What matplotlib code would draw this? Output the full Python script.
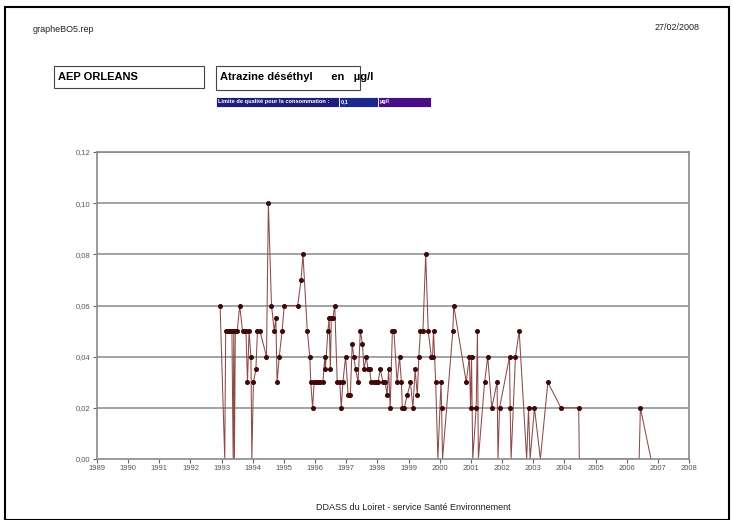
import numpy as np
import matplotlib
matplotlib.use("Agg")
import matplotlib.pyplot as plt
from matplotlib.patches import Rectangle

plt.rcParams['font.family'] = ['Liberation Sans', 'DejaVu Sans']

# dates (années décimales) et valeurs en µg/l
dates = [
    1992.95, 1993.10, 1993.13, 1993.20, 1993.27, 1993.33, 1993.37, 1993.39, 1993.41, 1993.44,
    1993.50, 1993.58, 1993.67, 1993.74, 1993.78, 1993.83, 1993.88, 1993.94, 1993.97, 1994.02,
    1994.10, 1994.15, 1994.23, 1994.44, 1994.50, 1994.60, 1994.69, 1994.74, 1994.78, 1994.85,
    1994.94, 1995.01, 1995.44, 1995.55, 1995.61, 1995.75, 1995.83, 1995.86, 1995.92, 1995.97,
    1996.02, 1996.09, 1996.17, 1996.25, 1996.31, 1996.33, 1996.41, 1996.45, 1996.49, 1996.52,
    1996.57, 1996.63, 1996.71, 1996.79, 1996.84, 1996.89, 1996.98, 1997.06, 1997.13, 1997.19,
    1997.24, 1997.30, 1997.38, 1997.45, 1997.52, 1997.57, 1997.64, 1997.70, 1997.75, 1997.80,
    1997.88, 1997.96, 1998.02, 1998.09, 1998.18, 1998.25, 1998.31, 1998.36, 1998.41, 1998.48,
    1998.53, 1998.63, 1998.71, 1998.77, 1998.80, 1998.86, 1998.96, 1999.06, 1999.14, 1999.21,
    1999.28, 1999.33, 1999.38, 1999.46, 1999.55, 1999.63, 1999.73, 1999.77, 1999.80, 1999.87,
    1999.94, 2000.04, 2000.06, 2000.09, 2000.42, 2000.45, 2000.85, 2000.95, 2000.99, 2001.02,
    2001.06, 2001.17, 2001.21, 2001.24, 2001.44, 2001.54, 2001.67, 2001.84, 2001.87, 2001.92,
    2002.24, 2002.26, 2002.29, 2002.43, 2002.55, 2002.79, 2002.85, 2002.90, 2003.04, 2003.23,
    2003.47, 2003.89, 2004.46, 2004.48, 2006.40, 2006.44, 2006.78,
]
valeurs = [
    0.06, 0.00, 0.05, 0.05, 0.05, 0.05, 0.00, 0.05, 0.00, 0.05,
    0.05, 0.06, 0.05, 0.05, 0.05, 0.03, 0.05, 0.04, 0.00, 0.03,
    0.035, 0.05, 0.05, 0.04, 0.10, 0.06, 0.05, 0.055, 0.03, 0.04,
    0.05, 0.06, 0.06, 0.07, 0.08, 0.05, 0.04, 0.03, 0.02, 0.03,
    0.03, 0.03, 0.03, 0.03, 0.04, 0.035, 0.05, 0.055, 0.035, 0.055,
    0.055, 0.06, 0.03, 0.03, 0.02, 0.03, 0.04, 0.025, 0.025, 0.045,
    0.04, 0.035, 0.03, 0.05, 0.045, 0.035, 0.04, 0.035, 0.035, 0.03,
    0.03, 0.03, 0.03, 0.035, 0.03, 0.03, 0.025, 0.035, 0.02, 0.05,
    0.05, 0.03, 0.04, 0.03, 0.02, 0.02, 0.025, 0.03, 0.02, 0.035,
    0.025, 0.04, 0.05, 0.05, 0.08, 0.05, 0.04, 0.04, 0.05, 0.03,
    0.00, 0.03, 0.02, 0.00, 0.05, 0.06, 0.03, 0.04, 0.02, 0.04,
    0.00, 0.02, 0.05, 0.00, 0.03, 0.04, 0.02, 0.03, 0.00, 0.02,
    0.04, 0.02, 0.00, 0.04, 0.05, 0.00, 0.02, 0.00, 0.02, 0.00,
    0.03, 0.02, 0.02, 0.00, 0.00, 0.02, 0.00,
]
annees = list(range(1989, 2009))
y_ticks = [0.00, 0.02, 0.04, 0.06, 0.08, 0.10, 0.12]

dates = np.array(dates)
valeurs = np.array(valeurs)

fig = plt.figure(figsize=(7.34, 5.2), dpi=100)

# cadre extérieur
fig.patches.append(Rectangle((5 / 734, 0), 724 / 734, 513 / 520, transform=fig.transFigure,
                             fill=False, edgecolor='black', linewidth=1.5))

fig.text(33 / 734, 1 - 29 / 520, "grapheBO5.rep", fontsize=6.5, va='center', color='#222222')
fig.text(700 / 734, 1 - 27 / 520, "27/02/2008", fontsize=6.5, va='center', ha='right', color='#222222')

# cartouches titre
fig.patches.append(Rectangle((54 / 734, 1 - 88 / 520), 150 / 734, 22 / 520, transform=fig.transFigure,
                             fill=False, edgecolor='#444444', linewidth=0.8))
fig.text(58 / 734, 1 - 77 / 520, "AEP ORLEANS", fontsize=8, fontweight='bold', va='center')
fig.patches.append(Rectangle((216 / 734, 1 - 90 / 520), 144 / 734, 24 / 520, transform=fig.transFigure,
                             fill=False, edgecolor='#444444', linewidth=0.8))
fig.text(220 / 734, 1 - 77 / 520, "Atrazine déséthyl      en   µg/l", fontsize=8, fontweight='bold', va='center')

# bandeau limite de qualité
segments = [(216, 339, '#1e1e78', "Limite de qualité pour la consommation :"),
            (339, 378, '#1a2a8a', "0,1"),
            (378, 431, '#4a0d86', "µg/l")]
for x0, x1, col, txt in segments:
    fig.patches.append(Rectangle((x0 / 734, 1 - 107 / 520), (x1 - x0) / 734, 10 / 520,
                                 transform=fig.transFigure, facecolor=col, edgecolor='white', linewidth=0.6))
    fig.text((x0 + 2) / 734, 1 - 102 / 520, txt, fontsize=4.1, fontweight='bold', color='white', va='center')

ax = fig.add_axes([97 / 734, 61 / 520, 592 / 734, 307 / 520])

for v in y_ticks[1:]:
    ax.axhline(v, color='#8a8a8a', linewidth=1.1, zorder=1)

ax.plot(dates, valeurs, color='#8c4a4a', linewidth=0.75, zorder=3)
nz = valeurs > 0
ax.plot(dates[nz], valeurs[nz], linestyle='none', marker='o', markersize=2.6,
        color='#400808', zorder=4)

ax.set_xlim(1989, 2008)
ax.set_ylim(0, 0.12)
ax.set_xticks(annees)
ax.set_xticklabels([str(a) for a in annees], fontsize=5.5, color='#555555')
ax.set_yticks(y_ticks)
ax.set_yticklabels([f"{v:.2f}".replace('.', ',') for v in y_ticks], fontsize=5.5, color='#555555')
ax.tick_params(axis='both', length=3, width=0.8, color='#666666', pad=1.5)
for s in ax.spines.values():
    s.set_color('#8a8a8a')
    s.set_linewidth(1.2)
    s.set_zorder(5)

fig.text(413 / 734, 1 - 507 / 520, "DDASS du Loiret - service Santé Environnement",
         fontsize=6.5, ha='center', va='center', color='#222222')

fig.savefig("out.png", dpi=100)
